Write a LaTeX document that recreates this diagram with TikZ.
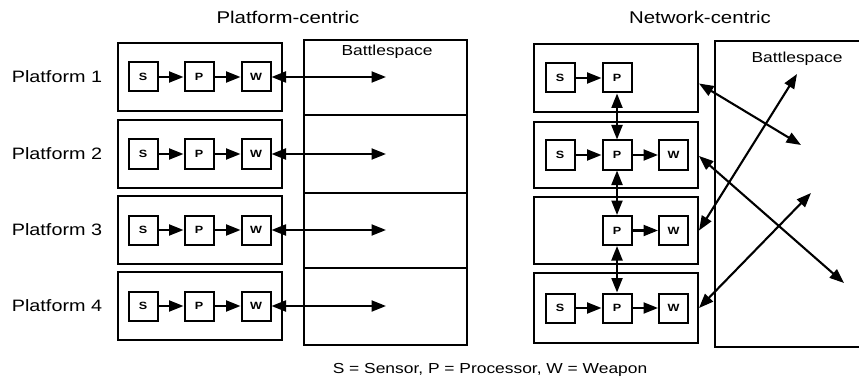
\documentclass[tikz,border=0pt]{standalone}
\usepackage{fontspec}
\setmainfont{Liberation Sans}[FakeStretch=1.2]
\usetikzlibrary{arrows.meta,calc}

\begin{document}
\begin{tikzpicture}[x=1pt,y=-1pt,
  >={Triangle[length=14.5pt,width=11pt]},
  unit/.style={draw,line width=2pt,minimum width=29pt,minimum height=29pt,inner sep=0pt,
    font=\fontsize{10.5}{11}\selectfont\bfseries},
  plat/.style={draw,line width=2pt,minimum width=164pt,minimum height=68pt,inner sep=0pt},
  cell/.style={draw,line width=2pt,minimum width=163pt,inner sep=0pt},
  arr/.style={line width=2.1pt,->},
  darr/.style={line width=2.1pt,<->},
  rowlab/.style={font=\fontsize{16.5}{18}\selectfont},
  title/.style={font=\fontsize{17}{19}\selectfont},
  bslab/.style={font=\fontsize{14.5}{16}\selectfont},
  ]
\useasboundingbox (0,0) rectangle (859,385);

% ---------------- titles ----------------
\node[title] (tl) at (288,17) {Platform-centric};
\node[title] (tr) at (700,17) {Network-centric};

% ---------------- platform-centric side ----------------
\foreach \i/\y in {1/77,2/154,3/230,4/306}{
  \node[rowlab] (lab\i) at (57,\y) {Platform \i};
  \node[plat] (L\i) at (200,\y) {};
  \node[unit] (L\i s) at (143,\y) {S};
  \node[unit] (L\i p) at (199,\y) {P};
  \node[unit] (L\i w) at (256,\y) {W};
  \draw[arr] (L\i s) -- (L\i p);
  \draw[arr] (L\i p) -- (L\i w);
}

% battlespace strips, one per platform
\node[cell,minimum height=75pt] (B1) at (385.5,77.5) {};
\node[cell,minimum height=78pt] (B2) at (385.5,154) {};
\node[cell,minimum height=75pt] (B3) at (385.5,230.5) {};
\node[cell,minimum height=77pt] (B4) at (385.5,306.5) {};
\node[bslab] (bsl) at (387,52) {Battlespace};

\foreach \i/\y in {1/77,2/154,3/230,4/306}{
  \coordinate (e\i) at (386,\y);
  \draw[darr] (L\i w.east) -- (e\i);
}

% ---------------- network-centric side ----------------
\node[plat] (R1) at (616,78.5) {};
\node[plat,minimum height=66pt] (R2) at (616,155) {};
\node[plat,minimum height=67pt] (R3) at (616,230.5) {};
\node[plat,minimum height=70pt] (R4) at (616,308) {};

\node[unit] (R1s) at (560,78) {S};
\node[unit] (R1p) at (617,78) {P};

\node[unit] (R2s) at (560,155) {S};
\node[unit] (R2p) at (617,155) {P};
\node[unit] (R2w) at (673.5,155) {W};

\node[unit] (R3p) at (617,230.5) {P};
\node[unit] (R3w) at (673.5,230.5) {W};

\node[unit] (R4s) at (560,308) {S};
\node[unit] (R4p) at (617,308) {P};
\node[unit] (R4w) at (673.5,308) {W};

\draw[arr] (R1s) -- (R1p);
\draw[arr] (R2s) -- (R2p);
\draw[arr] (R2p) -- (R2w);
\draw[arr] (R3p) -- (R3w);
\draw[arr] (R4s) -- (R4p);
\draw[arr] (R4p) -- (R4w);

\draw[darr] (R1p.south) -- (R2p.north);
\draw[darr] (R2p.south) -- (R3p.north);
\draw[darr] (R3p.south) -- (R4p.north);

% shared battlespace (runs off the right edge)
\draw[line width=2pt] (866,41) -- (715,41) -- (715,347) -- (866,347);
\node[bslab] (bsr) at (797,59) {Battlespace};

\coordinate (d1) at (801,145);
\coordinate (d2) at (844,283);
\coordinate (d3) at (797,74);
\coordinate (d4) at (811,193);

\draw[darr] ([yshift=-5pt]R1.east) -- (d1);
\draw[darr] ([yshift=-1pt]R2.east) -- (d2);
\draw[darr] (R3.east) -- (d3);
\draw[darr] (R4.east) -- (d4);

% ---------------- key ----------------
\node[font=\fontsize{14.5}{16}\selectfont] (key) at (490,370)
  {S = Sensor, P = Processor, W = Weapon};
\end{tikzpicture}
\end{document}
